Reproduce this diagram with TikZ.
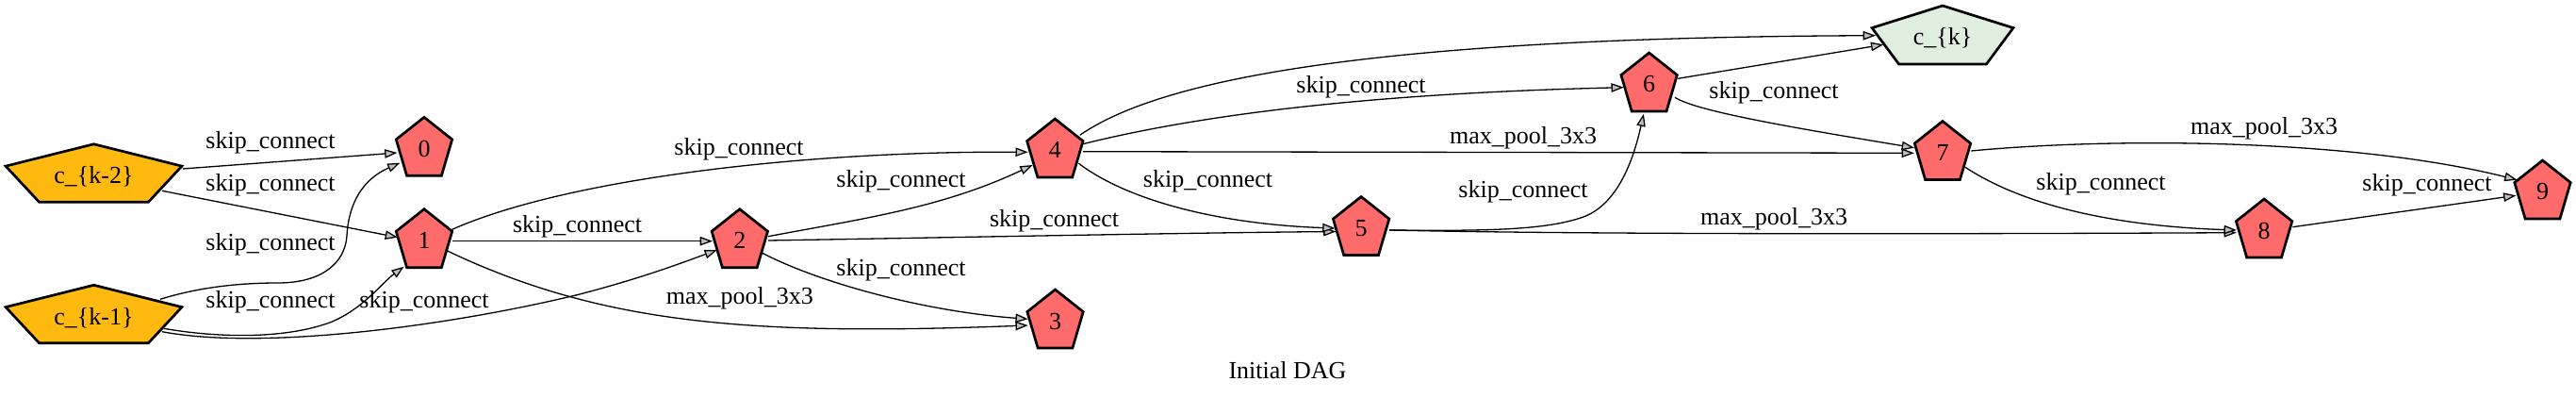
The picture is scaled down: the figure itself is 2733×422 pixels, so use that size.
\documentclass[tikz,border=0pt]{standalone}
\usepackage{fontspec}
\setmainfont{Liberation Serif}
\usetikzlibrary{arrows.meta,calc,backgrounds}
\definecolor{inred}{HTML}{FF6A6A}
\definecolor{inorange}{HTML}{FFB90F}
\definecolor{outgreen}{HTML}{E0EEE0}
\definecolor{tipgray}{HTML}{C0C0C0}
\newcommand\pentshape[2]{%
  \begin{pgfonlayer}{background}
    \draw[pentline, fill=#2] (#1.north)
      -- ($(#1.north east)!0.38!(#1.south east)$)
      -- ($(#1.south west)!0.81!(#1.south east)$)
      -- ($(#1.south west)!0.19!(#1.south east)$)
      -- ($(#1.north west)!0.38!(#1.south west)$) -- cycle;
  \end{pgfonlayer}}
\begin{document}
\begin{tikzpicture}[x=1pt,y=-1pt,
  font=\fontsize{26}{31}\selectfont,
  pnode/.style={rectangle, inner sep=0pt, text height=22pt, text depth=0pt,
    minimum width=59pt, minimum height=61.5pt},
  wnode/.style={pnode, minimum width=186.5pt, minimum height=61pt},
  pentline/.style={line width=2.7pt, line join=miter},
  edge/.style={line width=1.3pt, -{Triangle[length=13.3pt,width=9.4pt,fill=tipgray]}},
  lab/.style={inner sep=0pt}]
\useasboundingbox (0,0) rectangle (2733,422);

% ---- nodes ----
\node[wnode] (ck2) at (99.5,183.5) {c\_\{k-2\}};
\node[wnode] (ck1) at (99.5,333) {c\_\{k-1\}};
\node[pnode, minimum width=149.5pt] (ck) at (2061,37) {c\_\{k\}};
\node[pnode] (n0) at (450,155.3) {0};
\node[pnode] (n1) at (450,252.7) {1};
\node[pnode] (n2) at (784.8,252.7) {2};
\node[pnode] (n3) at (1119.5,338) {3};
\node[pnode] (n4) at (1119.3,157) {4};
\node[pnode] (n5) at (1444.1,239.5) {5};
\node[pnode] (n6) at (1749.6,87) {6};
\node[pnode] (n7) at (2061,159.5) {7};
\node[pnode] (n8) at (2402.1,242) {8};
\node[pnode] (n9) at (2697.5,201) {9};
\pentshape{ck2}{inorange}
\pentshape{ck1}{inorange}
\pentshape{ck}{outgreen}
\foreach \n in {n0,n1,n2,n3,n4,n5,n6,n7,n8,n9} {\pentshape{\n}{inred}}

% ---- edges ----
\draw[edge] ($(ck2)+(94.5,-4.5)$) -- ($(n0)+(-28.5,6.7)$);
\draw[edge] ($(ck2)+(72.5,18.8)$) -- ($(n1)+(-28,-1)$);
\draw[edge] ($(ck1)+(70.5,-15.7)$) .. controls (200,308) and (240,300) .. (295,300)
  .. controls (340,300) and (366,280) .. (368,250)
  .. controls (370,215) and (385,190) .. ($(n0)+(-25.6,17.4)$);
\draw[edge] ($(ck1)+(74.1,15.3)$) .. controls (230,358) and (300,360) .. (350,342)
  .. controls (385,328) and (405,300) .. ($(n1)+(-21.4,30)$);
\draw[edge] ($(ck1)+(72.4,18.7)$) .. controls (280,372) and (480,345) .. (615,312)
  .. controls (680,295) and (720,280) .. ($(n2)+(-23.9,12.3)$);
\draw[edge] ($(n1)+(29.7,-9.4)$) .. controls (600,190) and (850,160) .. ($(n4)+(-28.5,4.3)$);
\draw[edge] ($(n1)+(30,3)$) -- ($(n2)+(-28.8,3)$);
\draw[edge] ($(n1)+(24,13)$) .. controls (640,345) and (800,356) .. ($(n3)+(-28.7,7)$);
\draw[edge] ($(n2)+(30.1,-2)$) .. controls (920,231) and (1000,220) .. ($(n4)+(-23.7,18)$);
\draw[edge] ($(n2)+(30.1,2.3)$) .. controls (1000,252) and (1250,247) .. ($(n5)+(-26.6,6)$);
\draw[edge] ($(n2)+(23.9,15.6)$) .. controls (870,300) and (980,330) .. ($(n3)+(-28.7,0.3)$);
\draw[edge] ($(n4)+(26.4,-13.7)$) .. controls (1230,85) and (1450,40) .. ($(ck)+(-71,0.7)$);
\draw[edge] ($(n4)+(29.6,-4.3)$) .. controls (1300,115) and (1500,98) .. ($(n6)+(-26.8,5.7)$);
\draw[edge] ($(n4)+(29.7,3.7)$) -- ($(n7)+(-30,2.8)$);
\draw[edge] ($(n4)+(25.1,16.3)$) .. controls (1200,215) and (1300,238) .. ($(n5)+(-27.6,2.5)$);
\draw[edge] ($(n5)+(30,4.5)$) .. controls (1580,245) and (1640,244) .. (1680,230)
  .. controls (1720,215) and (1735,160) .. ($(n6)+(-5.7,33.7)$);
\draw[edge] ($(n5)+(30,4.5)$) .. controls (1700,249) and (2100,248) .. ($(n8)+(-29.2,4.7)$);
\draw[edge] ($(n6)+(30.6,-3.7)$) -- ($(ck)+(-62.7,10.3)$);
\draw[edge] ($(n6)+(27.4,16.3)$) .. controls (1800,118) and (1900,135) .. ($(n7)+(-30,-2.8)$);
\draw[edge] ($(n7)+(30.3,0.5)$) .. controls (2250,145) and (2500,148) .. ($(n9)+(-27,-10.3)$);
\draw[edge] ($(n7)+(24,17.8)$) .. controls (2150,220) and (2250,240) .. ($(n8)+(-29.2,2)$);
\draw[edge] ($(n8)+(30.3,-1.3)$) -- ($(n9)+(-28.1,6.3)$);

% ---- edge labels ----
\node[lab] (l1) at (287,151.7) {skip\_connect};
\node[lab] (l2) at (287,196.7) {skip\_connect};
\node[lab] (l3) at (287,259.3) {skip\_connect};
\node[lab] (l4) at (287,320) {skip\_connect};
\node[lab] (l5) at (450,320.7) {skip\_connect};
\node[lab] (l6) at (784,158.3) {skip\_connect};
\node[lab] (l7) at (612.6,240) {skip\_connect};
\node[lab] (l8) at (784.8,316) {max\_pool\_3x3};
\node[lab] (l9) at (956,192.7) {skip\_connect};
\node[lab] (l10) at (1118.6,234) {skip\_connect};
\node[lab] (l11) at (956,286) {skip\_connect};
\node[lab] (l12) at (1444,92.7) {skip\_connect};
\node[lab] (l13) at (1616,146.7) {max\_pool\_3x3};
\node[lab] (l14) at (1281.5,192.7) {skip\_connect};
\node[lab] (l15) at (1616,203.3) {skip\_connect};
\node[lab] (l16) at (1882,98.3) {skip\_connect};
\node[lab] (l17) at (1882,232.7) {max\_pool\_3x3};
\node[lab] (l18) at (2402,136) {max\_pool\_3x3};
\node[lab] (l19) at (2229,195.7) {skip\_connect};
\node[lab] (l20) at (2575,196.7) {skip\_connect};

% ---- caption ----
\node[lab] (cap) at (1366,393) {Initial DAG};
\end{tikzpicture}
\end{document}
